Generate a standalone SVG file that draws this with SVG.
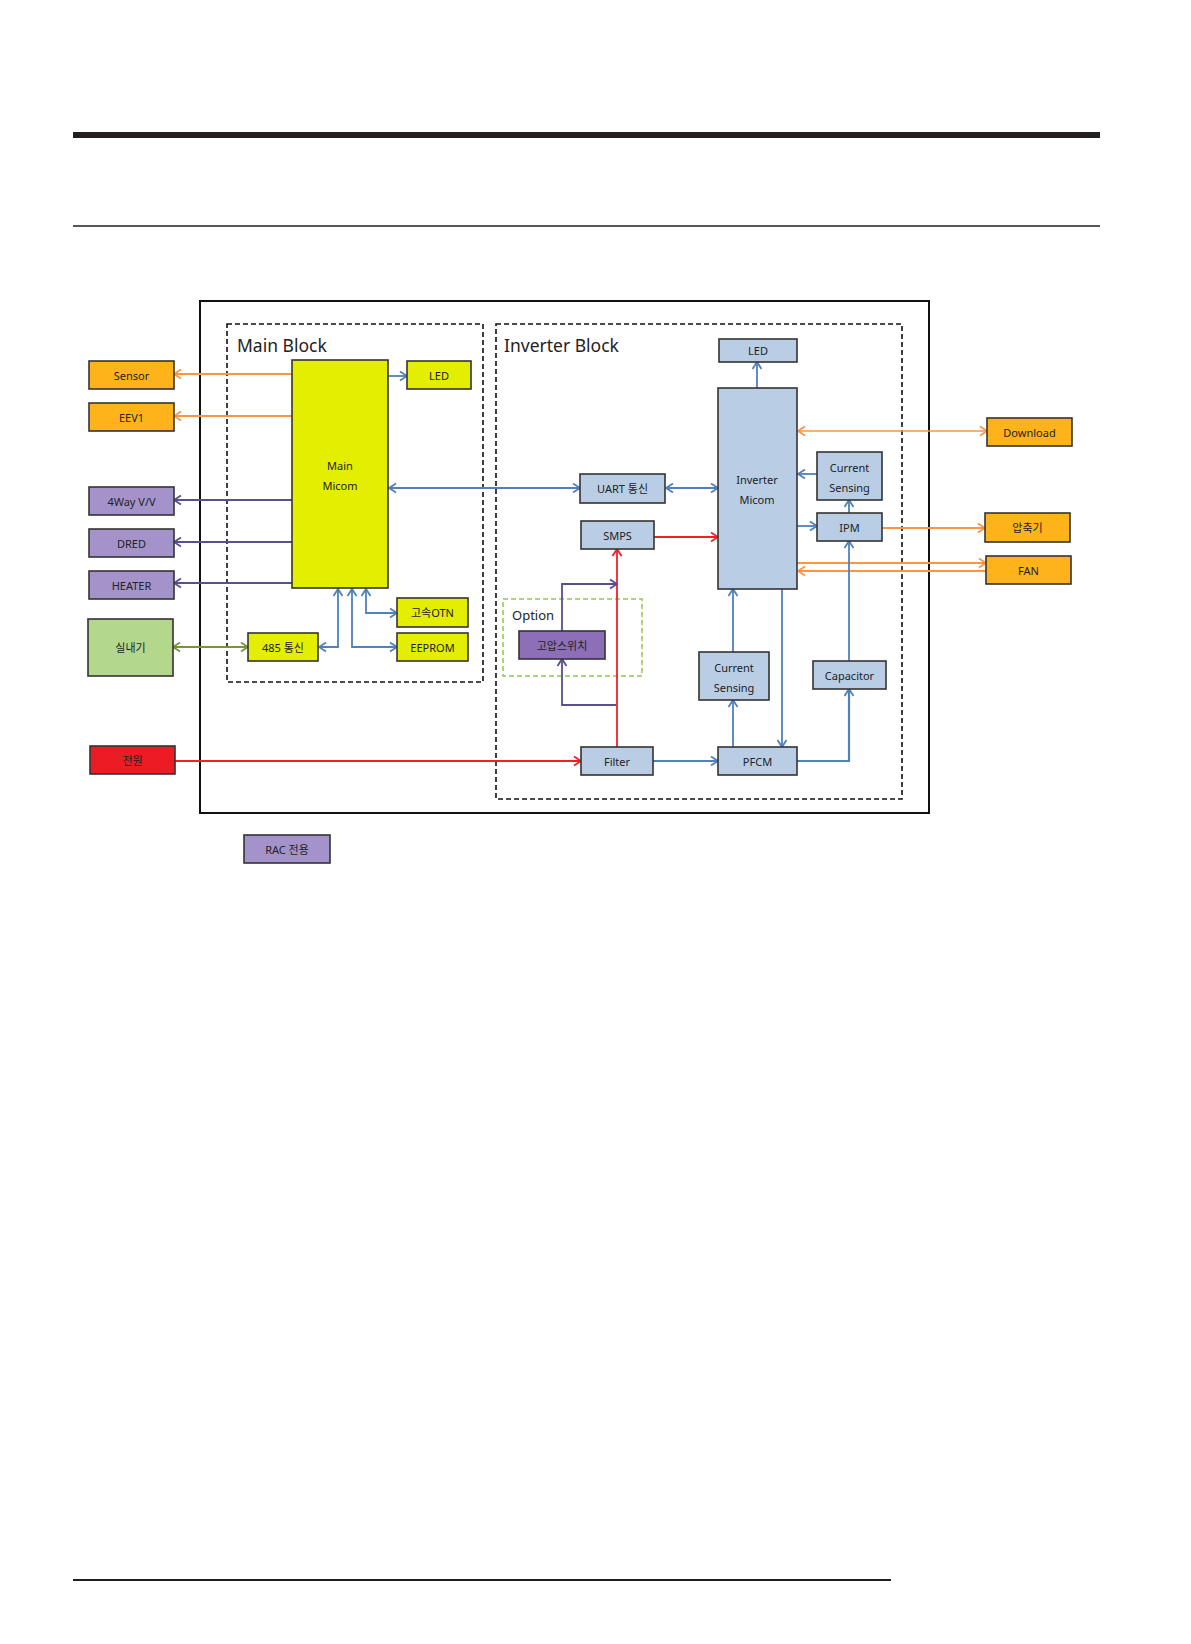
<svg xmlns="http://www.w3.org/2000/svg" width="1191" height="1644" viewBox="0 0 1191 1644">
<style>
  text { font-family: "Noto Sans", "Noto Sans CJK KR", sans-serif; fill: #222; }
  .lbl { font-size: 11px; text-anchor: middle; dominant-baseline: central; }
  .title { font-size: 17.5px; }
  .box { stroke: #333; stroke-width: 1.6; }
  .org { fill: #FFB31B; }
  .yel { fill: #E4EE00; }
  .blu { fill: #B9CDE5; }
  .pur { fill: #A393CA; }
  .pur2 { fill: #8D6FB7; }
  .grn { fill: #B3D88C; }
  .red { fill: #ED1C24; }
  .c { fill: none; stroke-width: 1.8; }
  .co { stroke: #F79646; }
  .cb { stroke: #4F81BD; }
  .cp { stroke: #5A4E8C; }
  .cg { stroke: #77933C; }
  .cr { stroke: #F0202A; }
</style>
<defs>
  <marker id="ao" markerUnits="userSpaceOnUse" markerWidth="12" markerHeight="12" refX="0" refY="0" viewBox="-9 -6 10 12" orient="auto-start-reverse"><path d="M-7,-4.5 L0,0 L-7,4.5" fill="none" stroke="#F79646" stroke-width="1.8"/></marker>
  <marker id="ab" markerUnits="userSpaceOnUse" markerWidth="12" markerHeight="12" refX="0" refY="0" viewBox="-9 -6 10 12" orient="auto-start-reverse"><path d="M-7,-4.5 L0,0 L-7,4.5" fill="none" stroke="#4F81BD" stroke-width="1.8"/></marker>
  <marker id="ap" markerUnits="userSpaceOnUse" markerWidth="12" markerHeight="12" refX="0" refY="0" viewBox="-9 -6 10 12" orient="auto-start-reverse"><path d="M-7,-4.5 L0,0 L-7,4.5" fill="none" stroke="#5A4E8C" stroke-width="1.8"/></marker>
  <marker id="ag" markerUnits="userSpaceOnUse" markerWidth="12" markerHeight="12" refX="0" refY="0" viewBox="-9 -6 10 12" orient="auto-start-reverse"><path d="M-7,-4.5 L0,0 L-7,4.5" fill="none" stroke="#77933C" stroke-width="1.8"/></marker>
  <marker id="ar" markerUnits="userSpaceOnUse" markerWidth="12" markerHeight="12" refX="0" refY="0" viewBox="-9 -6 10 12" orient="auto-start-reverse"><path d="M-7,-4.5 L0,0 L-7,4.5" fill="none" stroke="#F0202A" stroke-width="1.8"/></marker>
</defs>
<rect width="1191" height="1644" fill="#fff"/>

<!-- page rules -->
<rect x="73" y="132" width="1027" height="6" fill="#231F20"/>
<line x1="73" y1="226" x2="1100" y2="226" stroke="#231F20" stroke-width="1.5"/>
<line x1="73" y1="1580" x2="891" y2="1580" stroke="#231F20" stroke-width="2"/>

<!-- frames -->
<g id="frames">
  <rect x="200" y="301" width="729" height="512" fill="none" stroke="#111" stroke-width="2"/>
  <rect x="227" y="324" width="256" height="358" fill="none" stroke="#111" stroke-width="1.6" stroke-dasharray="5,3"/>
  <rect x="496" y="324" width="406" height="475" fill="none" stroke="#111" stroke-width="1.6" stroke-dasharray="5,3"/>
  <rect x="503" y="599" width="139" height="77" fill="none" stroke="#8CCB4A" stroke-width="1.5" stroke-dasharray="5,3"/>
  <text class="title" x="237" y="352">Main Block</text>
  <text class="title" x="504" y="352">Inverter Block</text>
  <text x="512" y="620" style="font-size:13px">Option</text>
</g>

<!-- connectors -->
<g id="connectors">
  <path class="c co" d="M292,374 H174" marker-end="url(#ao)"/>
  <path class="c co" d="M292,416 H174" marker-end="url(#ao)"/>
  <path class="c cb" d="M388,376 H407" marker-end="url(#ab)"/>
  <path class="c cp" d="M292,500 H174" marker-end="url(#ap)"/>
  <path class="c cp" d="M292,542 H174" marker-end="url(#ap)"/>
  <path class="c cp" d="M292,583 H174" marker-end="url(#ap)"/>
  <path class="c cg" d="M173,647 H248" marker-start="url(#ag)" marker-end="url(#ag)"/>
  <path class="c cb" d="M319,647 H338 V589" marker-start="url(#ab)" marker-end="url(#ab)"/>
  <path class="c cb" d="M352,589 V647 H397" marker-start="url(#ab)" marker-end="url(#ab)"/>
  <path class="c cb" d="M366,589 V613 H397" marker-start="url(#ab)" marker-end="url(#ab)"/>
  <path class="c cb" d="M389,488 H580" marker-start="url(#ab)" marker-end="url(#ab)"/>
  <path class="c cb" d="M666,488 H718" marker-start="url(#ab)" marker-end="url(#ab)"/>
  <path class="c cb" d="M757,388 V362" marker-end="url(#ab)"/>
  <path class="c co" d="M798,431 H987" marker-start="url(#ao)" marker-end="url(#ao)" style="stroke-width:1.5"/>
  <path class="c cb" d="M817,474 H798" marker-end="url(#ab)"/>
  <path class="c cb" d="M797,526 H817" marker-end="url(#ab)"/>
  <path class="c cb" d="M849,513 V500" marker-end="url(#ab)"/>
  <path class="c co" d="M882,528 H985" marker-end="url(#ao)" style="stroke-width:2.2"/>
  <path class="c co" d="M797,563 H986" marker-end="url(#ao)" style="stroke-width:2.2"/>
  <path class="c co" d="M986,571 H798" marker-end="url(#ao)" style="stroke-width:2.2"/>
  <path class="c cr" d="M654,537 H718" marker-end="url(#ar)"/>
  <path class="c cr" d="M617,747 V549" marker-end="url(#ar)"/>
  <path class="c cr" d="M175,761 H581" marker-end="url(#ar)"/>
  <path class="c cp" d="M562,631 V584 H617" marker-end="url(#ap)"/>
  <path class="c cp" d="M616,705 H562 V659" marker-end="url(#ap)"/>
  <path class="c cb" d="M652,761 H718" marker-end="url(#ab)" style="stroke-width:2.2"/>
  <path class="c cb" d="M797,761 H849 V689" marker-end="url(#ab)" style="stroke-width:2.2"/>
  <path class="c cb" d="M849,661 V541" marker-end="url(#ab)"/>
  <path class="c cb" d="M782,589 V747" marker-end="url(#ab)"/>
  <path class="c cb" d="M733,747 V700" marker-end="url(#ab)"/>
  <path class="c cb" d="M733,652 V589" marker-end="url(#ab)"/>
</g>

<!-- nodes -->
<g id="sensor"><rect class="box org" x="89" y="361" width="85" height="28"/><text class="lbl" x="131.5" y="375">Sensor</text></g>
<g id="eev1"><rect class="box org" x="89" y="403" width="85" height="28"/><text class="lbl" x="131.5" y="417">EEV1</text></g>
<g id="way4"><rect class="box pur" x="89" y="487" width="85" height="28"/><text class="lbl" x="131.5" y="501">4Way V/V</text></g>
<g id="dred"><rect class="box pur" x="89" y="529" width="85" height="28"/><text class="lbl" x="131.5" y="543">DRED</text></g>
<g id="heater"><rect class="box pur" x="89" y="571" width="85" height="28"/><text class="lbl" x="131.5" y="585">HEATER</text></g>
<g id="indoor"><rect class="box grn" x="88" y="619" width="85" height="57"/><text class="lbl" x="130.5" y="647">실내기</text></g>
<g id="power"><rect class="box red" x="90" y="746" width="85" height="28"/><text class="lbl" x="132.5" y="760">전원</text></g>
<g id="rac"><rect class="box pur" x="244" y="835" width="86" height="28"/><text class="lbl" x="287" y="849">RAC 전용</text></g>

<g id="main-micom"><rect class="box yel" x="292" y="360" width="96" height="228"/><text class="lbl" x="340" y="465">Main</text><text class="lbl" x="340" y="485">Micom</text></g>
<g id="led-main"><rect class="box yel" x="407" y="361" width="64" height="28"/><text class="lbl" x="439" y="375">LED</text></g>
<g id="rs485"><rect class="box yel" x="248" y="633" width="70" height="28"/><text class="lbl" x="283" y="647">485 통신</text></g>
<g id="otn"><rect class="box yel" x="397" y="598" width="71" height="29"/><text class="lbl" x="432.5" y="612">고속OTN</text></g>
<g id="eeprom"><rect class="box yel" x="397" y="633" width="71" height="28"/><text class="lbl" x="432.5" y="647">EEPROM</text></g>

<g id="led-inv"><rect class="box blu" x="719" y="339" width="78" height="23"/><text class="lbl" x="758" y="350.5">LED</text></g>
<g id="inv-micom"><rect class="box blu" x="718" y="388" width="79" height="201"/><text class="lbl" x="757" y="479">Inverter</text><text class="lbl" x="757" y="499">Micom</text></g>
<g id="uart"><rect class="box blu" x="580" y="474" width="85" height="29"/><text class="lbl" x="622.5" y="488">UART 통신</text></g>
<g id="smps"><rect class="box blu" x="581" y="521" width="73" height="28"/><text class="lbl" x="617.5" y="535">SMPS</text></g>
<g id="hp-switch"><rect class="box pur2" x="519" y="631" width="86" height="28"/><text class="lbl" x="562" y="645">고압스위치</text></g>
<g id="cs-upper"><rect class="box blu" x="817" y="452" width="65" height="48"/><text class="lbl" x="849.5" y="467">Current</text><text class="lbl" x="849.5" y="487">Sensing</text></g>
<g id="ipm"><rect class="box blu" x="817" y="513" width="65" height="28"/><text class="lbl" x="849.5" y="527">IPM</text></g>
<g id="cs-lower"><rect class="box blu" x="699" y="652" width="70" height="48"/><text class="lbl" x="734" y="667">Current</text><text class="lbl" x="734" y="687">Sensing</text></g>
<g id="capacitor"><rect class="box blu" x="813" y="661" width="73" height="28"/><text class="lbl" x="849.5" y="675">Capacitor</text></g>
<g id="filter"><rect class="box blu" x="581" y="747" width="72" height="28"/><text class="lbl" x="617" y="761">Filter</text></g>
<g id="pfcm"><rect class="box blu" x="718" y="747" width="79" height="28"/><text class="lbl" x="757.5" y="761">PFCM</text></g>

<g id="download"><rect class="box org" x="987" y="418" width="85" height="28"/><text class="lbl" x="1029.5" y="432">Download</text></g>
<g id="compressor"><rect class="box org" x="985" y="513" width="85" height="29"/><text class="lbl" x="1027.5" y="527">압축기</text></g>
<g id="fan"><rect class="box org" x="986" y="556" width="85" height="28"/><text class="lbl" x="1028.5" y="570">FAN</text></g>
</svg>
